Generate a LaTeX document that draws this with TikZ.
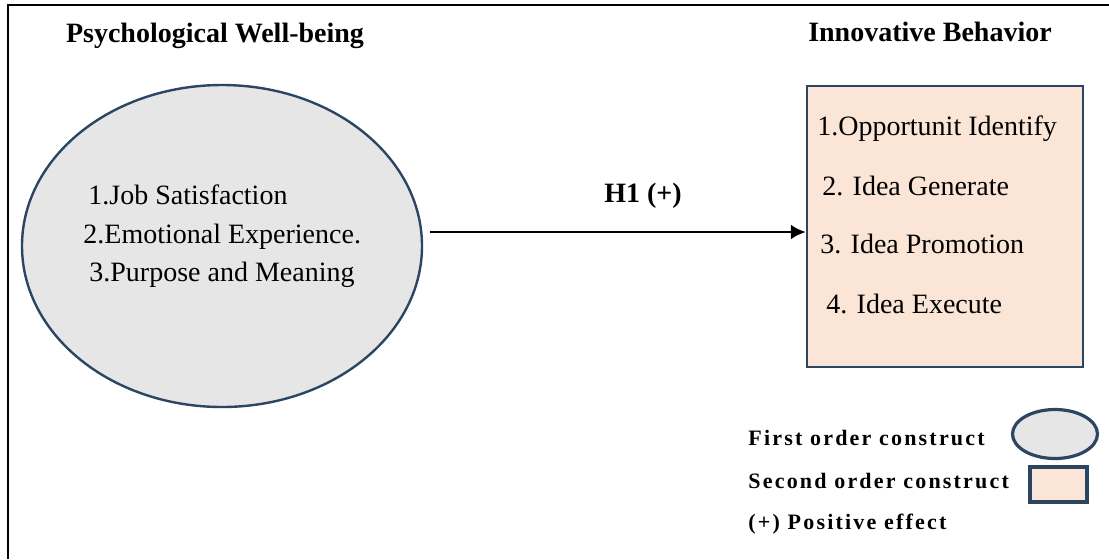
\documentclass[tikz,border=0pt]{standalone}
\usepackage{fontspec}
\setmainfont{Liberation Serif}
\usetikzlibrary{shapes.geometric,arrows.meta}
\definecolor{pwbgray}{HTML}{E7E6E6}
\definecolor{ibpeach}{HTML}{FBE5D6}
\definecolor{edgeblue}{HTML}{2B4562}
\begin{document}
\begin{tikzpicture}[x=0.5pt,y=-0.5pt,
  itemtxt/.style={anchor=base west, inner sep=0pt, font=\fontsize{14}{16}\selectfont},
  headtxt/.style={anchor=base, inner sep=0pt, font=\fontsize{14}{16}\selectfont\bfseries},
  legtxt/.style={anchor=base west, inner sep=0pt, font=\fontsize{11}{13}\selectfont\bfseries\addfontfeatures{LetterSpace=10}}]
\useasboundingbox (0,0) rectangle (1109,559);
% frame, only top and left edges are shown
\draw[line width=1pt] (8,559) -- (8,5) -- (1109,5);
% constructs
\node[ellipse, draw=edgeblue, line width=1.2pt, fill=pwbgray, minimum width=200pt, minimum height=161pt, inner sep=0pt] (pwb) at (222,246) {};
\node[rectangle, draw=edgeblue, line width=1.2pt, fill=ibpeach, minimum width=138pt, minimum height=140.5pt, inner sep=0pt] (ib) at (945,226.5) {};
\node[headtxt] (pwbtitle) at (215,42) {Psychological Well-being};
\node[headtxt] (ibtitle) at (930,41) {Innovative Behavior};
% dimensions
\node[itemtxt] (pwbone) at (88,204) {1.Job Satisfaction};
\node[itemtxt] (pwbtwo) at (83,243) {2.Emotional Experience.};
\node[itemtxt] (pwbthree) at (89,281) {3.Purpose and Meaning};
\node[itemtxt] (ibone) at (817,135) {1.Opportunit Identify};
\node[itemtxt] (ibtwo) at (822,195) {2. Idea Generate};
\node[itemtxt] (ibthree) at (820,253) {3. Idea Promotion};
\node[itemtxt] (ibfour) at (826,313) {4. Idea Execute};
% hypothesis
\coordinate (h1start) at (430,232);
\draw[line width=1.4pt, -{Latex[length=7.5pt,width=7.5pt]}] (h1start) -- (h1start -| ib.west);
\node[headtxt] (h1lbl) at (643,202) {H1 (+)};
% legend
\node[legtxt] (legfirsttxt) at (748,445) {First order construct};
\node[legtxt] (legsecondtxt) at (748,488) {Second order construct};
\node[legtxt] (legplustxt) at (748,529) {(+) Positive effect};
\node[ellipse, draw=edgeblue, line width=1.6pt, fill=pwbgray, minimum width=42.5pt, minimum height=24.5pt, inner sep=0pt] (legfirst) at (1055,434) {};
\node[rectangle, draw=edgeblue, line width=1.6pt, fill=ibpeach, minimum width=28.5pt, minimum height=17.5pt, inner sep=0pt] (legsecond) at (1058.5,484.5) {};
\end{tikzpicture}
\end{document}
